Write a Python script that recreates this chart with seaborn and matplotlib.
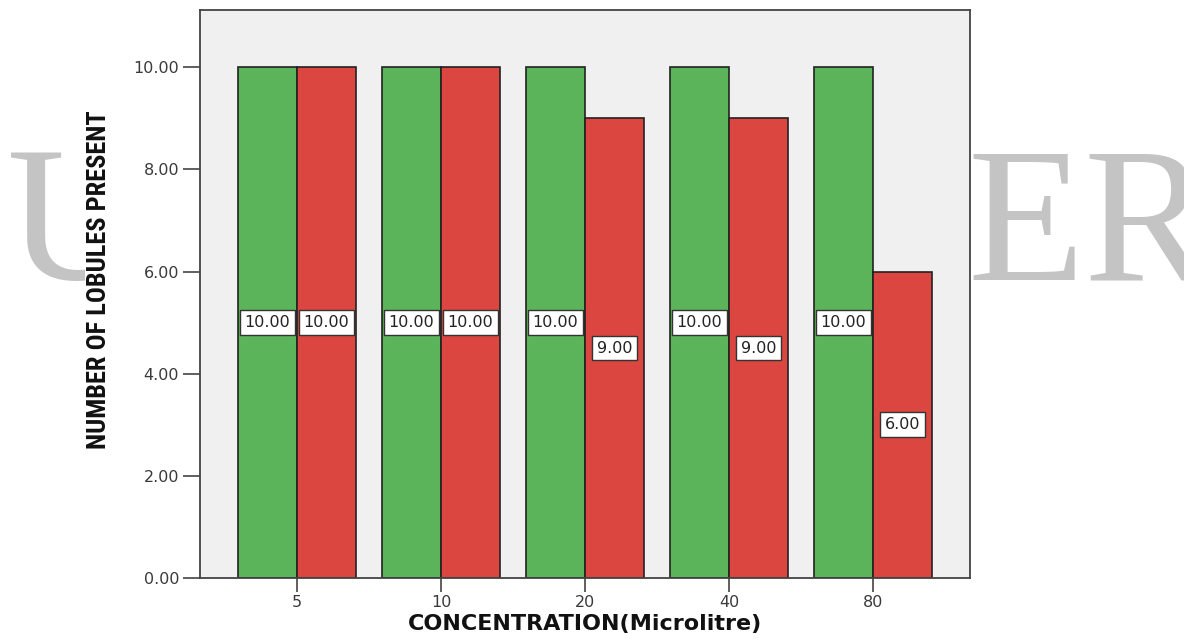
import pandas as pd
import seaborn as sns
import matplotlib.pyplot as plt
from matplotlib.patches import Rectangle

concentration = ["5", "10", "20", "40", "80"]
group_1 = [10, 10, 10, 10, 10]
group_2 = [10, 10, 9, 9, 6]
groups = ["Group 1", "Group 2"]

df = pd.DataFrame({
    "Concentration": concentration * 2,
    "Lobules": group_1 + group_2,
    "Group": [groups[0]] * 5 + [groups[1]] * 5,
})

sns.set_style("white")
plt.rcParams["font.family"] = ["DejaVu Sans"]

fig = plt.figure(figsize=(11.84, 6.4), dpi=100)
ax = fig.add_axes([0.1689, 0.0969, 0.6503, 0.8875])

# watermark behind the chart, partly hidden by a white panel
fig.text(0.006, 0.564, "U", fontsize=138, family="Liberation Serif",
         color="#c4c4c4", va="baseline", zorder=-2)
fig.text(0.817, 0.564, "ER", fontsize=138, family="Liberation Serif",
         color="#c4c4c4", va="baseline", zorder=-2)
fig.add_artist(Rectangle((85 / 1184, 0), (973 - 85) / 1184, 1,
                         transform=fig.transFigure, fc="white", ec="none",
                         zorder=-1))

sns.barplot(data=df, x="Concentration", y="Lobules", hue="Group",
            order=concentration, hue_order=groups,
            palette=["#5cb45a", "#db4641"], saturation=1, width=0.82,
            edgecolor="#222222", linewidth=1.2, legend=False, ax=ax)

for c in ax.containers:
    ax.bar_label(c, fmt="%.2f", label_type="center", fontsize=11.5, color="#222222",
                 bbox=dict(boxstyle="square,pad=0.3", fc="white", ec="#333333", lw=1))

ax.set_facecolor("#f0f0f0")
ax.set_xlim(-0.674, 4.674)
ax.set_ylim(0, 11.12)
ax.set_yticks([0, 2, 4, 6, 8, 10])
ax.set_yticklabels([f"{v:.2f}" for v in [0, 2, 4, 6, 8, 10]])
for s in ax.spines.values():
    s.set_visible(True)
    s.set_color("#444444")
    s.set_linewidth(1.3)
ax.tick_params(axis="y", length=12, width=1.2, color="#444444", labelsize=11.5,
               labelcolor="#3a3a3a", direction="out", left=True, pad=3)
ax.tick_params(axis="x", length=10, width=1.2, color="#444444", labelsize=11.5,
               labelcolor="#3a3a3a", direction="out", bottom=True, pad=2)

ax.set_ylabel("NUMBER OF LOBULES PRESENT", fontsize=19, fontweight="bold",
              fontstretch="condensed",
              family=["Roboto Condensed", "DejaVu Sans"], color="#111111",
              labelpad=16)
ax.yaxis.label.set_y(0.525)
ax.set_xlabel("CONCENTRATION(Microlitre)", fontsize=16, fontweight="bold",
              color="#111111", labelpad=3)

fig.savefig("out.png", dpi=100)
